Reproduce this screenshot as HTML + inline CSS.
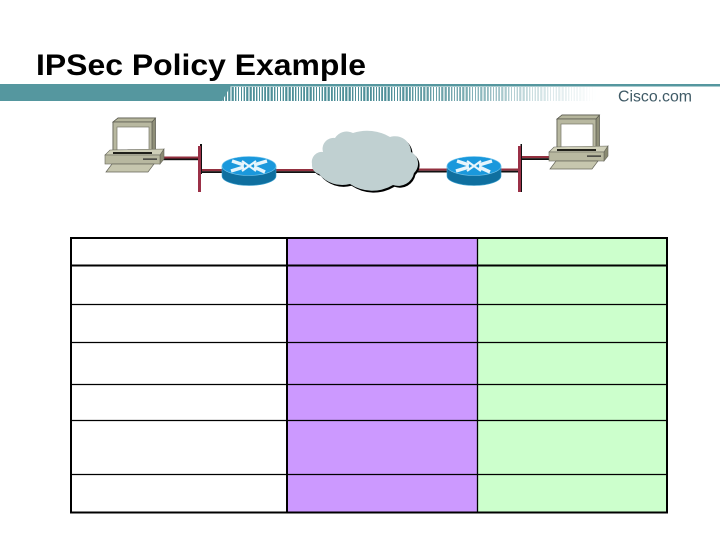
<!DOCTYPE html>
<html>
<head>
<meta charset="utf-8">
<style>
html,body{margin:0;padding:0;background:#fff;}
#p{position:relative;width:720px;height:540px;overflow:hidden;background:#fff;font-family:"Liberation Sans",sans-serif;}
#s{position:absolute;left:220px;top:87px;width:376px;height:14px;
background:repeating-linear-gradient(90deg,#4f8f98 0 1px,transparent 1px 3px),repeating-linear-gradient(90deg,#6fa5ac 0 1px,transparent 1px 2.6px);
-webkit-mask-image:linear-gradient(90deg,#000 0,#000 45%,rgba(0,0,0,.75) 65%,rgba(0,0,0,.25) 85%,transparent 100%);
mask-image:linear-gradient(90deg,#000 0,#000 45%,rgba(0,0,0,.75) 65%,rgba(0,0,0,.25) 85%,transparent 100%);
clip-path:polygon(8px 0,100% 0,100% 100%,0 100%);}
svg{position:absolute;left:0;top:0;}
</style>
</head>
<body>
<div id="p">
<div id="s"></div>
<svg width="720" height="540" viewBox="0 0 720 540" xmlns="http://www.w3.org/2000/svg">
<defs>
<g id="pc">
  <polygon points="113,122 118,118 155.5,118 155.5,149 152,153 113,153" fill="#8f8f78" stroke="#55554a" stroke-width="0.7"/>
  <polygon points="113,122 118,118 155.5,118 152,122" fill="#b5b59c" stroke="#55554a" stroke-width="0.7"/>
  <rect x="113" y="122" width="39" height="31" fill="#b8b8a0" stroke="#55554a" stroke-width="0.7"/>
  <rect x="117" y="127" width="32" height="23" fill="#fff" stroke="#77776a" stroke-width="0.7"/>
  <polygon points="105,155 110,150 164,149 160,155" fill="#cfcfb8" stroke="#66665a" stroke-width="0.6"/>
  <polygon points="160,155 164,149 164,159 160,164" fill="#8a8a72" stroke="#66665a" stroke-width="0.6"/>
  <rect x="105" y="155" width="55" height="9" fill="#b8b8a0" stroke="#66665a" stroke-width="0.6"/>
  <rect x="113" y="152" width="39" height="2" fill="#20201a"/>
  <rect x="143" y="158.500" width="14" height="1.200" fill="#222"/>
  <polygon points="106,172 112,164 154,164 148,172" fill="#c6c6ae" stroke="#66665a" stroke-width="0.7"/>
</g>
<g id="rt">
  <path d="M-27,-9 V1 A27,9.500 0 0 0 27,1 V-9 Z" fill="#0f6f9f" stroke="#3aa0d0" stroke-width="0.6"/>
  <ellipse cx="0" cy="-9" rx="27" ry="9.500" fill="#1a98dc" stroke="#7ac8ee" stroke-width="0.6"/>
  <path d="M-17,-14 L-5,-10 M-18,-4 L-5,-8 M18,-14 L5,-10 M16,-3 L5,-8" stroke="#e6f5fc" stroke-width="3.500" fill="none"/>
  <path d="M-7,-14 L7,-4 M7,-14 L-7,-4" stroke="#e8f6fc" stroke-width="2" fill="none"/>
</g>
<path id="cl" d="M312,164 A10,10 0 0 1 323,152 A11,11 0 0 1 335,138 A14,14 0 0 1 353,133 A45,45 0 0 1 390,137 A16,16 0 0 1 411,152 A13,13 0 0 1 414,173 A16,16 0 0 1 393,185 A40,40 0 0 1 350,184 A30,30 0 0 1 319,174 A9,9 0 0 1 312,164 Z"/>
</defs>

<!-- header -->
<rect x="0" y="84" width="720" height="2.500" fill="#55979f"/>
<polygon points="0,84 232,84 222,101 0,101" fill="#55979f"/>
<text x="36" y="75" font-family="Liberation Sans, sans-serif" font-size="30" font-weight="bold" fill="#000" textLength="330" lengthAdjust="spacingAndGlyphs">IPSec Policy Example</text>
<text x="618" y="101.500" font-family="Liberation Sans, sans-serif" font-size="16" fill="#3f5a66" textLength="74" lengthAdjust="spacingAndGlyphs">Cisco.com</text>

<!-- links -->
<g>
  <rect x="162" y="156.500" width="37" height="2" fill="#93303f"/><rect x="162" y="158.500" width="37" height="1.700" fill="#111"/>
  <rect x="201" y="169" width="22" height="2.200" fill="#93303f"/><rect x="201" y="171.200" width="22" height="1.800" fill="#111"/>
  <rect x="275" y="169" width="42" height="2.200" fill="#93303f"/><rect x="275" y="171.200" width="42" height="1.800" fill="#111"/>
  <rect x="412" y="168.500" width="36" height="2.200" fill="#93303f"/><rect x="412" y="170.700" width="36" height="1.800" fill="#111"/>
  <rect x="500" y="168.500" width="20" height="2.200" fill="#93303f"/><rect x="500" y="170.700" width="20" height="1.800" fill="#111"/>
  <rect x="520" y="156" width="32" height="2.200" fill="#93303f"/><rect x="520" y="158.200" width="32" height="1.800" fill="#111"/>
</g>
<!-- bars -->
<rect x="200" y="144" width="2" height="30" fill="#111"/>
<rect x="198" y="146" width="3" height="46" fill="#9b3047"/>
<rect x="520.500" y="144" width="1.500" height="48" fill="#111"/>
<rect x="518" y="146" width="3" height="46" fill="#9b3047"/>

<use href="#pc"/>
<use href="#pc" transform="translate(444,-3)"/>
<use href="#rt" transform="translate(249,175)"/>
<use href="#rt" transform="translate(474,175)"/>
<use href="#cl" fill="#000" transform="translate(1.500,1.800)"/>
<use href="#cl" fill="#c0d0d1"/>

<!-- table -->
<rect x="288" y="238" width="189" height="274" fill="#cc99ff"/>
<rect x="478" y="238" width="188" height="274" fill="#ccffcc"/>
<g stroke="#000" fill="none">
  <path d="M71,304.500 H667 M71,342.500 H667 M71,384.500 H667 M71,420.500 H667 M71,474.500 H667" stroke-width="1.300"/>
  <path d="M71,265.500 H667" stroke-width="2"/>
  <path d="M287,238 V512" stroke-width="2"/>
  <path d="M477.500,238 V512" stroke-width="1.300"/>
  <rect x="71" y="238" width="596" height="274.500" stroke-width="2"/>
</g>
</svg>
</div>
</body>
</html>
